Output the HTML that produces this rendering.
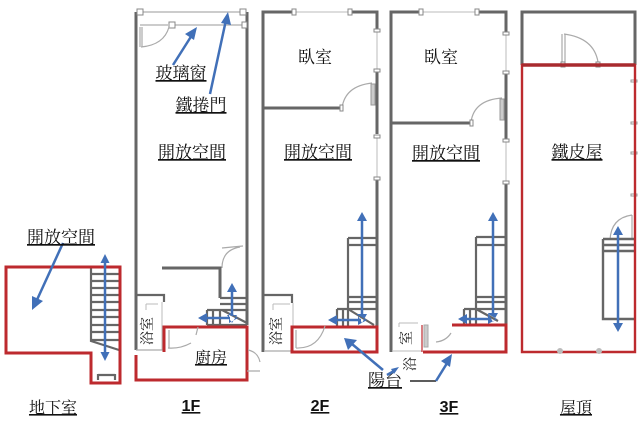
<!DOCTYPE html>
<html><head><meta charset="utf-8"><style>
html,body{margin:0;padding:0;background:#fff}
svg{display:block;filter:blur(.35px)}
text{font-family:"Liberation Serif","Noto Serif CJK SC",serif;fill:#111;text-anchor:middle;font-size:16px}
.u{text-decoration:underline}
.b{font-family:"Liberation Sans","Noto Sans CJK TC",sans-serif;font-weight:bold;font-size:16px;fill:#111}
.w{stroke:#666;stroke-width:3;fill:none}
.s{stroke:#666;stroke-width:2.2;fill:none}
.t{stroke:#bbb;stroke-width:1;fill:none}
.d{stroke:#aaa;stroke-width:1.2;fill:none}
.r{stroke:#bd2a2e;stroke-width:3;fill:none}
.a{stroke:#4170b8;stroke-width:2.5;fill:none}
.f{fill:#4170b8;stroke:none}
.k{fill:#fff;stroke:#888;stroke-width:1}
</style></head><body>
<svg width="640" height="448" viewBox="0 0 640 448" xmlns="http://www.w3.org/2000/svg">
<rect width="640" height="448" fill="#fff"/>

<!-- Basement -->
<path class="s" d="M91 267V341L119 350M91 274H119M91 281H119M91 288H119M91 295H119M91 302H119M91 310H119M91 317H119M91 325H119M91 332H119M91 340H119"/>
<path class="s" d="M98 375H115M98 374V380M115 374V380"/>
<path class="r" d="M6 267H120V383H91V353H6Z"/>
<path class="a" d="M105 260V356"/>
<path class="f" d="M105 254L100.500 263H109.500ZM105 361L100.500 352H109.500Z"/>
<path class="a" d="M63 243L36 302"/>
<path class="f" d="M32 310L32 296L43 301Z"/>
<text class="u" x="61" y="243" style="font-size:17px">開放空間</text>
<text class="u" x="53" y="413">地下室</text>

<!-- 1F -->
<path class="w" d="M136 12V350M247 12V325"/>
<path class="t" d="M140 12H243M172 25H243M140 25H168" style="stroke-width:1.5"/>
<rect class="k" x="137" y="9" width="6" height="6"/><rect class="k" x="240" y="9" width="6" height="6"/>
<rect class="k" x="169" y="22" width="6" height="6"/><rect class="k" x="242" y="22" width="5" height="6"/>
<path class="d" d="M140 27V47M142 27V47M141 47Q164 45 169 27"/>
<path class="w" d="M162 268H220V298"/>
<path class="d" d="M222 248Q232 247 243 246M222 268Q222 250 240 247"/>
<path class="s" d="M220 298H247M220 304H247M220 310H247M207 310H222M207 310V325M213 310V325M220 310V325M222 310L247 323M207 325H247"/>
<path class="s" d="M136 295H164V302"/>
<path class="t" d="M146 304H158M146 304V310M162 302V350"/>
<path class="d" d="M136 350H164"/>
<text x="150" y="333" transform="rotate(-90 150 331)" style="font-size:14px">浴室</text>
<path class="r" d="M136 355V380H247V327H164V352"/>
<path class="d" d="M169 330V348M168 348Q180 349 191 343M196 335L198 327M248 350Q258 352 260 362M247 371H260M248 371H260"/>
<text class="u" x="211" y="363">廚房</text>
<path class="a" d="M204 318H230M232 290V316"/>
<path class="f" d="M198 318L207 313V323ZM238 318L229 313V323ZM232 283L227 292H237ZM232 323L227 315H237Z"/>
<path class="a" d="M173 65L192 35M210 94L226 20"/>
<path class="f" d="M197 27L185 34L194 40ZM228 12L221 23L231 25Z"/>
<text class="u" x="181" y="79" style="font-size:17px">玻璃窗</text>
<text class="u" x="201" y="111" style="font-size:17px">鐵捲門</text>
<text class="u" x="192" y="158" style="font-size:17px">開放空間</text>
<text class="b u" x="191" y="411">1F</text>

<!-- 2F -->
<path class="w" d="M263 352V12H292M351 12H377V30M377 72V134M377 178V327"/>
<path class="t" d="M293 12H350M377 30V72M377 136V178"/>
<rect class="k" x="292" y="9" width="4" height="6"/><rect class="k" x="348" y="9" width="4" height="6"/>
<rect class="k" x="374" y="29" width="6" height="3"/><rect class="k" x="374" y="69" width="6" height="3"/><rect class="k" x="374" y="135" width="6" height="3"/><rect class="k" x="374" y="177" width="6" height="3"/>
<path class="w" d="M263 108H341"/>
<path class="d" d="M342 108Q345 86 372 83"/>
<rect x="371" y="84" width="4" height="21" fill="#ccc" stroke="#999"/>
<rect class="k" x="340" y="105" width="3" height="6"/>
<text x="315" y="63" style="font-size:17px">臥室</text>
<text class="u" x="318" y="158" style="font-size:17px">開放空間</text>
<path class="s" d="M348 238V309M348 238H377M348 245H377M348 297H377M348 302H377M348 309H377M337 309H348M337 309V327M343 309V327M348 309V327M348 309L374 325"/>
<path class="s" d="M263 295H292V303"/>
<path class="t" d="M273 304H290M273 304V310M293 303V327"/>
<text x="279" y="333" transform="rotate(-90 279 331)" style="font-size:14px">浴室</text>
<path class="d" d="M265 351H291"/>
<rect class="r" x="292" y="327" width="85" height="25"/>
<path class="d" d="M296 330V348M296 348Q318 349 325 326"/>
<path class="a" d="M362 218V316M334 320H361"/>
<path class="f" d="M362 212L357 221H367ZM362 323L357 314H367ZM328 320L337 315V325ZM367 320L358 315V325Z"/>
<path class="a" d="M383 370L352 344"/>
<path class="f" d="M344 338L348 350L357 340Z"/>
<text class="u" x="385" y="386" style="font-size:17px">陽台</text>
<text class="b u" x="320" y="411">2F</text>

<!-- 3F -->
<path class="w" d="M391 352V12H419M478 12H506V33M506 74V140M506 182V325"/>
<path class="t" d="M421 12H477M506 33V72M506 141V182"/>
<rect class="k" x="419" y="9" width="4" height="6"/><rect class="k" x="475" y="9" width="4" height="6"/>
<rect class="k" x="503" y="32" width="6" height="3"/><rect class="k" x="503" y="71" width="6" height="3"/><rect class="k" x="503" y="139" width="6" height="3"/><rect class="k" x="503" y="181" width="6" height="3"/>
<path class="w" d="M391 123H470"/>
<path class="d" d="M471 122Q474 100 502 98"/>
<rect x="500" y="99" width="4" height="21" fill="#ccc" stroke="#999"/>
<rect class="k" x="470" y="120" width="3" height="6"/>
<text x="441" y="63" style="font-size:17px">臥室</text>
<text class="u" x="446" y="159" style="font-size:17px">開放空間</text>
<path class="s" d="M476 237V309M476 237H506M476 245H506M476 297H506M476 302H506M476 309H506M464 309H476M464 309V326M470 309V326M476 309V326M476 309L498 321"/>
<path class="t" d="M399 323H418M399 323V327M392 351H422"/>
<text x="406" y="343" transform="rotate(-90 406 338)" style="font-size:14px">室</text>
<text x="410" y="369" transform="rotate(-90 410 364)" style="font-size:14px">浴</text>
<rect x="424" y="325" width="4" height="22" fill="#ccc" stroke="#aaa"/>
<path d="M422 325V352" stroke="#bd2a2e" stroke-width="1.2" fill="none"/>
<path class="r" d="M452 325H506V352H423"/>
<path class="d" d="M436 342Q446 341 451 333"/>
<path class="a" d="M493 218V316M464 319H491"/>
<path class="f" d="M493 212L488 221H498ZM493 322L488 313H498ZM458 319L467 314V324ZM497 319L488 314V324Z"/>
<path d="M410 381H436" stroke="#444" stroke-width="1.8" fill="none"/>
<path class="a" d="M436 381L449 360"/>
<path class="f" d="M452 354L441 361L450 367Z"/>
<path class="a" d="M387 375L394 371"/>
<path class="f" d="M399 367L391 369L394 374Z"/>
<text class="b u" x="449" y="412">3F</text>

<!-- Roof -->
<path class="w" d="M522 65V12H635V65"/>
<path class="d" d="M562 34V62M565 34V62M564 34Q594 38 598 62"/>
<rect class="k" x="561" y="62" width="4" height="5"/><rect class="k" x="596" y="62" width="4" height="5"/>
<g fill="#fff" stroke="#999" stroke-width="1"><rect x="631" y="80" width="6" height="2"/><rect x="631" y="122" width="6" height="2"/><rect x="631" y="152" width="6" height="2"/><rect x="631" y="194" width="6" height="2"/></g>
<path class="d" d="M610 240Q611 218 632 215M632 215V238"/>
<path class="s" d="M603 239H634M603 245H634M603 251H634M603 239V319H634" style="stroke-width:2.4"/>
<path class="r" d="M522 65H635V352H522Z" style="stroke-width:2.4"/>
<path d="M522 65H635" stroke="#a82a2e" stroke-width="3.5" fill="none"/>
<g fill="#bbb"><circle cx="560" cy="351" r="3"/><circle cx="599" cy="351" r="3"/></g>
<path class="a" d="M618 232V326"/>
<path class="f" d="M618 226L613 235H623ZM618 332L613 323H623Z"/>
<text class="u" x="577" y="158" style="font-size:17px">鐵皮屋</text>
<text class="u" x="576" y="413">屋頂</text>
</svg>
</body></html>
